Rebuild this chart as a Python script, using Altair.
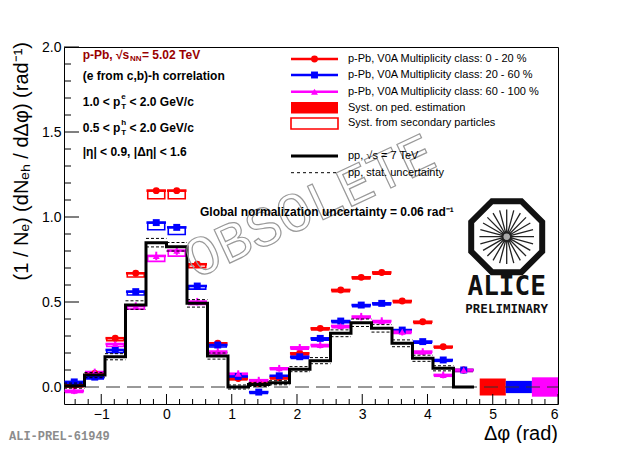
import math
import pandas as pd
import altair as alt

# ---------------- data ----------------
bin_edges = [-1.5708, -1.2566, -0.9425, -0.6283, -0.3142, 0.0, 0.3142, 0.6283, 0.9425, 1.2566,
             1.5708, 1.8850, 2.1991, 2.5133, 2.8274, 3.1416, 3.4558, 3.7699, 4.0841, 4.3982, 4.7124]
bin_centers = [-1.4137, -1.0996, -0.7854, -0.4712, -0.1571, 0.1571, 0.4712, 0.7854, 1.0996, 1.4137,
               1.7279, 2.0420, 2.3562, 2.6704, 2.9845, 3.2987, 3.6128, 3.9270, 4.2412, 4.5553]

pp_vals = [0.008, 0.070, 0.178, 0.482, 0.849, 0.825, 0.492, 0.182, 0.000, 0.015,
           0.025, 0.105, 0.155, 0.316, 0.378, 0.345, 0.257, 0.169, 0.110, 0.000]
pp_err = [0.015, 0.015, 0.018, 0.025, 0.025, 0.025, 0.022, 0.018, 0.012, 0.012,
          0.012, 0.015, 0.018, 0.020, 0.022, 0.022, 0.020, 0.018, 0.015, 0.000]

red_vals = [0.010, 0.080, 0.287, 0.669, 1.155, 1.155, 0.722, 0.257, 0.050, 0.020,
            0.055, 0.198, 0.345, 0.571, 0.645, 0.674, 0.506, 0.384, 0.237, 0.100]
blue_vals = [0.030, 0.058, 0.218, 0.561, 0.967, 0.939, 0.594, 0.247, 0.062, -0.030,
             0.066, 0.178, 0.286, 0.388, 0.482, 0.492, 0.335, 0.267, 0.159, 0.100]
mag_vals = [-0.022, 0.088, 0.253, 0.476, 0.771, 0.802, 0.502, 0.208, 0.078, 0.040,
            0.110, 0.233, 0.247, 0.359, 0.414, 0.388, 0.325, 0.208, 0.071, 0.100]

red_stat = [0.010, 0.010, 0.012, 0.012, 0.014, 0.014, 0.012, 0.010, 0.010, 0.010,
            0.010, 0.010, 0.010, 0.012, 0.012, 0.012, 0.012, 0.010, 0.010, 0.010]
blue_stat = [0.009, 0.009, 0.010, 0.010, 0.012, 0.012, 0.010, 0.009, 0.009, 0.009,
             0.009, 0.009, 0.009, 0.010, 0.010, 0.010, 0.010, 0.009, 0.009, 0.009]
mag_stat = [0.020, 0.020, 0.022, 0.022, 0.025, 0.025, 0.022, 0.020, 0.020, 0.020,
            0.020, 0.020, 0.020, 0.022, 0.022, 0.022, 0.022, 0.020, 0.020, 0.020]

red_sec = [0.010, 0.010, 0.015, 0.022, 0.048, 0.048, 0.020, 0.012, 0.008, 0.008,
           0.008, 0.010, 0.010, 0.010, 0.010, 0.010, 0.010, 0.010, 0.008, 0.008]
blue_sec = [0.010, 0.010, 0.015, 0.020, 0.042, 0.042, 0.018, 0.012, 0.008, 0.008,
            0.008, 0.010, 0.010, 0.010, 0.010, 0.010, 0.010, 0.010, 0.008, 0.008]
mag_sec = [0.010, 0.010, 0.015, 0.018, 0.032, 0.032, 0.016, 0.012, 0.008, 0.008,
           0.008, 0.010, 0.010, 0.010, 0.010, 0.010, 0.010, 0.010, 0.008, 0.008]

series_names = ["0 - 20 %", "20 - 60 %", "60 - 100 %"]
series_colors = ["#ff0000", "#0000ff", "#ff00ff"]
series_shapes = ["circle", "square", "triangle-up"]

glob_x0 = [4.8, 5.2, 5.6]
glob_x1 = [5.2, 5.6, 6.0]
glob_err = [0.050, 0.036, 0.057]

x_major = [-1, 0, 1, 2, 3, 4, 5, 6]
y_major = [0.0, 0.5, 1.0, 1.5, 2.0]

# ---------------- geometry / style ----------------
W, H = 494, 357
XDOM = [-1.5708, 6.0]
YDOM = [-0.1, 2.0]
FONT = "Liberation Sans"
HALF_BAR = 0.15
HALF_BOX = 0.13

xs = alt.Scale(domain=XDOM, nice=False, zero=False)
ys = alt.Scale(domain=YDOM, nice=False, zero=False)
cscale = alt.Scale(domain=series_names, range=series_colors)
sscale = alt.Scale(domain=series_names, range=series_shapes)

xaxis = alt.Axis(values=x_major, format="d", ticks=False, domain=False, grid=False,
                 labelFont=FONT, labelFontSize=14, labelColor="black", labelPadding=3,
                 title=None)
yaxis = alt.Axis(values=y_major, format=".1f", ticks=False, domain=False, grid=False,
                 labelFont=FONT, labelFontSize=14, labelColor="black", labelPadding=3,
                 title=None)

rows = []
for name, vals, st, sec in [(series_names[0], red_vals, red_stat, red_sec),
                            (series_names[1], blue_vals, blue_stat, blue_sec),
                            (series_names[2], mag_vals, mag_stat, mag_sec)]:
    for c, v, e, s in zip(bin_centers, vals, st, sec):
        rows.append(dict(series=name, x=c, y=v, xlo=c - HALF_BAR, xhi=c + HALF_BAR,
                         blo=c - HALF_BOX, bhi=c + HALF_BOX, elo=v - e, ehi=v + e,
                         slo=v - s, shi=v))
df = pd.DataFrame(rows)

pp_df = pd.DataFrame({"edge": bin_edges, "val": pp_vals + [pp_vals[-1]]})
pp_bins = pd.DataFrame({"lo": bin_edges[:-1], "hi": bin_edges[1:], "val": pp_vals, "err": pp_err})
pp_bins = pp_bins[pp_bins["err"] > 0]
pp_bins["up"] = pp_bins["val"] + pp_bins["err"]
pp_bins["dn"] = pp_bins["val"] - pp_bins["err"]

glob_df = pd.DataFrame({"series": series_names, "x0": glob_x0, "x1": glob_x1,
                        "lo": [-e for e in glob_err], "hi": glob_err})

one = pd.DataFrame({"a": [0]})


def X(f):
    return alt.X(f, type="quantitative", scale=xs, axis=xaxis)


def Y(f):
    return alt.Y(f, type="quantitative", scale=ys, axis=yaxis)


col = alt.Color("series:N", scale=cscale, legend=None)
Y0 = H - (0 - YDOM[0]) / (YDOM[1] - YDOM[0]) * H

layers = []

# global normalisation syst boxes
layers.append(alt.Chart(glob_df).mark_rect(opacity=1).encode(
    x=X("x0"), x2="x1", y=Y("lo"), y2="hi", color=col))

# zero line
layers.append(alt.Chart(one).mark_rule(color="#333333", strokeWidth=1, strokeDash=[14, 7]).encode(
    x=alt.value(0), x2=alt.value(W), y=alt.value(Y0)))

# secondary syst boxes (open)
layers.append(alt.Chart(df).mark_rect(filled=False, strokeWidth=1.6).encode(
    x=X("blo"), x2="bhi", y=Y("slo"), y2="shi", color=col))

# horizontal bars
layers.append(alt.Chart(df).mark_rule(strokeWidth=2.6).encode(
    x=X("xlo"), x2="xhi", y=Y("y"), color=col))
# stat errors
layers.append(alt.Chart(df).mark_rule(strokeWidth=2).encode(
    x=X("x"), y=Y("elo"), y2="ehi", color=col))
# markers
layers.append(alt.Chart(df).mark_point(filled=True, size=48, opacity=1).encode(
    x=X("x"), y=Y("y"), color=col, shape=alt.Shape("series:N", scale=sscale, legend=None)))

# pp stat dashed
for fld in ["up", "dn"]:
    layers.append(alt.Chart(pp_bins).mark_rule(color="black", strokeWidth=1, strokeDash=[3, 2]).encode(
        x=X("lo"), x2="hi", y=Y(fld)))

# pp histogram
layers.append(alt.Chart(pp_df).mark_line(interpolate="step-after", color="black", strokeWidth=3).encode(
    x=X("edge"), y=Y("val")))

# ---- inward ticks ----
x_minor = [round(-1.4 + 0.2 * k, 1) for k in range(37)]
x_minor = [v for v in x_minor if abs(v - round(v)) > 1e-6]
y_minor = [round(0.1 * k, 1) for k in range(1, 20) if k % 5 != 0]

layers.append(alt.Chart(pd.DataFrame({"v": x_major})).mark_rule(color="black", strokeWidth=1).encode(
    x=X("v"), y=alt.value(H), y2=alt.value(H - 10)))
layers.append(alt.Chart(pd.DataFrame({"v": x_minor})).mark_rule(color="black", strokeWidth=1).encode(
    x=X("v"), y=alt.value(H), y2=alt.value(H - 5)))
layers.append(alt.Chart(pd.DataFrame({"v": y_major})).mark_rule(color="black", strokeWidth=1).encode(
    y=Y("v"), x=alt.value(0), x2=alt.value(15)))
layers.append(alt.Chart(pd.DataFrame({"v": y_minor})).mark_rule(color="black", strokeWidth=1).encode(
    y=Y("v"), x=alt.value(0), x2=alt.value(7)))


def text(px, py, t, **kw):
    opts = dict(font=FONT, fontSize=12, align="left", baseline="middle", color="black")
    opts.update(kw)
    return alt.Chart(one).mark_text(**opts).encode(x=alt.value(px), y=alt.value(py), text=alt.value(t))


# ---- watermark ----
layers.append(text(246, 160, "OBSOLETE", font="Liberation Mono", fontSize=56, align="center",
                   angle=335, fillOpacity=0, stroke="#999999", strokeWidth=1.2))

# ---- left annotations ----
DR = "#990000"
layers.append(text(65.3, 8, "p-Pb, √s", align="right", fontWeight="bold", color=DR))
layers.append(text(66.0, 12, "NN", fontSize=8, fontWeight="bold", color=DR))
layers.append(text(78.0, 8, "= 5.02 TeV", fontWeight="bold", color=DR))
layers.append(text(18.7, 28.7, "(e from c,b)-h correlation", fontWeight="bold"))
for yy, sup, lo in [(54.7, "e", "1.0"), (80.7, "h", "0.5")]:
    layers.append(text(56.4, yy, lo + " < p", align="right", fontWeight="bold"))
    layers.append(text(57.2, yy - 5, sup, fontSize=8, fontWeight="bold"))
    layers.append(text(57.2, yy + 5, "T", fontSize=8, fontWeight="bold"))
    layers.append(text(65.5, yy, "< 2.0 GeV/c", fontWeight="bold"))
layers.append(text(18.7, 105.3, "|η| < 0.9, |Δη| < 1.6", fontWeight="bold"))
layers.append(text(136, 164.7, "Global normalization uncertainty = 0.06 rad⁻¹", fontWeight="bold"))

# ---- legend ----
LX0, LX1, LT = 227, 274, 284
leg_y = [12, 28, 44.7]
for i in range(3):
    layers.append(alt.Chart(one).mark_rule(color=series_colors[i], strokeWidth=2.6).encode(
        x=alt.value(LX0), x2=alt.value(LX1), y=alt.value(leg_y[i])))
    layers.append(alt.Chart(one).mark_point(filled=True, size=48, opacity=1, shape=series_shapes[i],
                                            color=series_colors[i]).encode(
        x=alt.value((LX0 + LX1) / 2), y=alt.value(leg_y[i])))
    layers.append(text(LT, leg_y[i], "p-Pb, V0A Multiplicity class: " + series_names[i], fontSize=11))
layers.append(alt.Chart(one).mark_rect(color="#ff0000").encode(
    x=alt.value(LX0), x2=alt.value(LX1), y=alt.value(55), y2=alt.value(66.5)))
layers.append(text(LT, 60.7, "Syst. on ped. estimation", fontSize=11))
layers.append(alt.Chart(one).mark_rect(filled=False, color="#ff0000", strokeWidth=1.6).encode(
    x=alt.value(LX0), x2=alt.value(LX1), y=alt.value(71), y2=alt.value(82)))
layers.append(text(LT, 76.3, "Syst. from secondary particles", fontSize=11))
layers.append(alt.Chart(one).mark_rule(color="black", strokeWidth=3).encode(
    x=alt.value(LX0), x2=alt.value(LX1), y=alt.value(109)))
layers.append(text(LT, 109, "pp, √s = 7 TeV", fontSize=11))
layers.append(alt.Chart(one).mark_rule(color="black", strokeWidth=1, strokeDash=[3, 3]).encode(
    x=alt.value(LX0), x2=alt.value(LX1), y=alt.value(125.7)))
layers.append(text(LT, 125.7, "pp, stat. uncertainty", fontSize=11))

# ---- ALICE logo ----
LCX, LCY = 442.7, 189.7
oct_path = "M -0.414 -1 L 0.414 -1 L 1 -0.414 L 1 0.414 L 0.414 1 L -0.414 1 L -1 0.414 L -1 -0.414 Z"
spokes = []
for k in range(24):
    a = 2 * math.pi * k / 24
    spokes.append("M %.3f %.3f L %.3f %.3f" % (0.08 * math.cos(a), 0.08 * math.sin(a),
                                               0.78 * math.cos(a), 0.78 * math.sin(a)))
spoke_path = " ".join(spokes)
layers.append(alt.Chart(one).mark_point(shape=spoke_path, size=70 * 70, filled=False, color="#222222",
                                        strokeWidth=1.3, opacity=1).encode(
    x=alt.value(LCX), y=alt.value(LCY)))
layers.append(alt.Chart(one).mark_point(shape="circle", size=40, filled=True, color="#aaaaaa",
                                        opacity=1).encode(x=alt.value(LCX), y=alt.value(LCY)))
layers.append(alt.Chart(one).mark_point(shape=oct_path, size=71 * 71, filled=False, color="#111111",
                                        strokeWidth=6, opacity=1).encode(
    x=alt.value(LCX), y=alt.value(LCY)))
layers.append(text(LCX, 240, "ALICE", font="DejaVu Sans Mono", fontSize=26, align="center",
                   fontWeight="bold", color="#111111"))
layers.append(text(LCX, 261.5, "PRELIMINARY", font="DejaVu Sans Mono", fontSize=12.5, align="center",
                   fontWeight="bold", color="#111111"))

# ---- titles ----
layers.append(text(494, 386.5, "Δφ (rad)", fontSize=20, align="right"))
layers.append(text(-42, -5, "(1 / Nₑ) (dNₑₕ / dΔφ) (rad⁻¹)", fontSize=20, align="right", angle=270))
layers.append(text(-55, 388.5, "ALI-PREL-61949", font="Liberation Mono", fontSize=12,
                   fontWeight="bold", color="#8c8c8c"))

chart = alt.layer(*layers).properties(
    width=W, height=H,
    autosize=alt.AutoSizeParams(type="none"),
    padding={"left": 56, "top": 39, "right": 57, "bottom": 39},
    background="white",
).configure_view(stroke="black", strokeWidth=1)

chart.save("out.html", embed_options={"renderer": "svg", "actions": False})
